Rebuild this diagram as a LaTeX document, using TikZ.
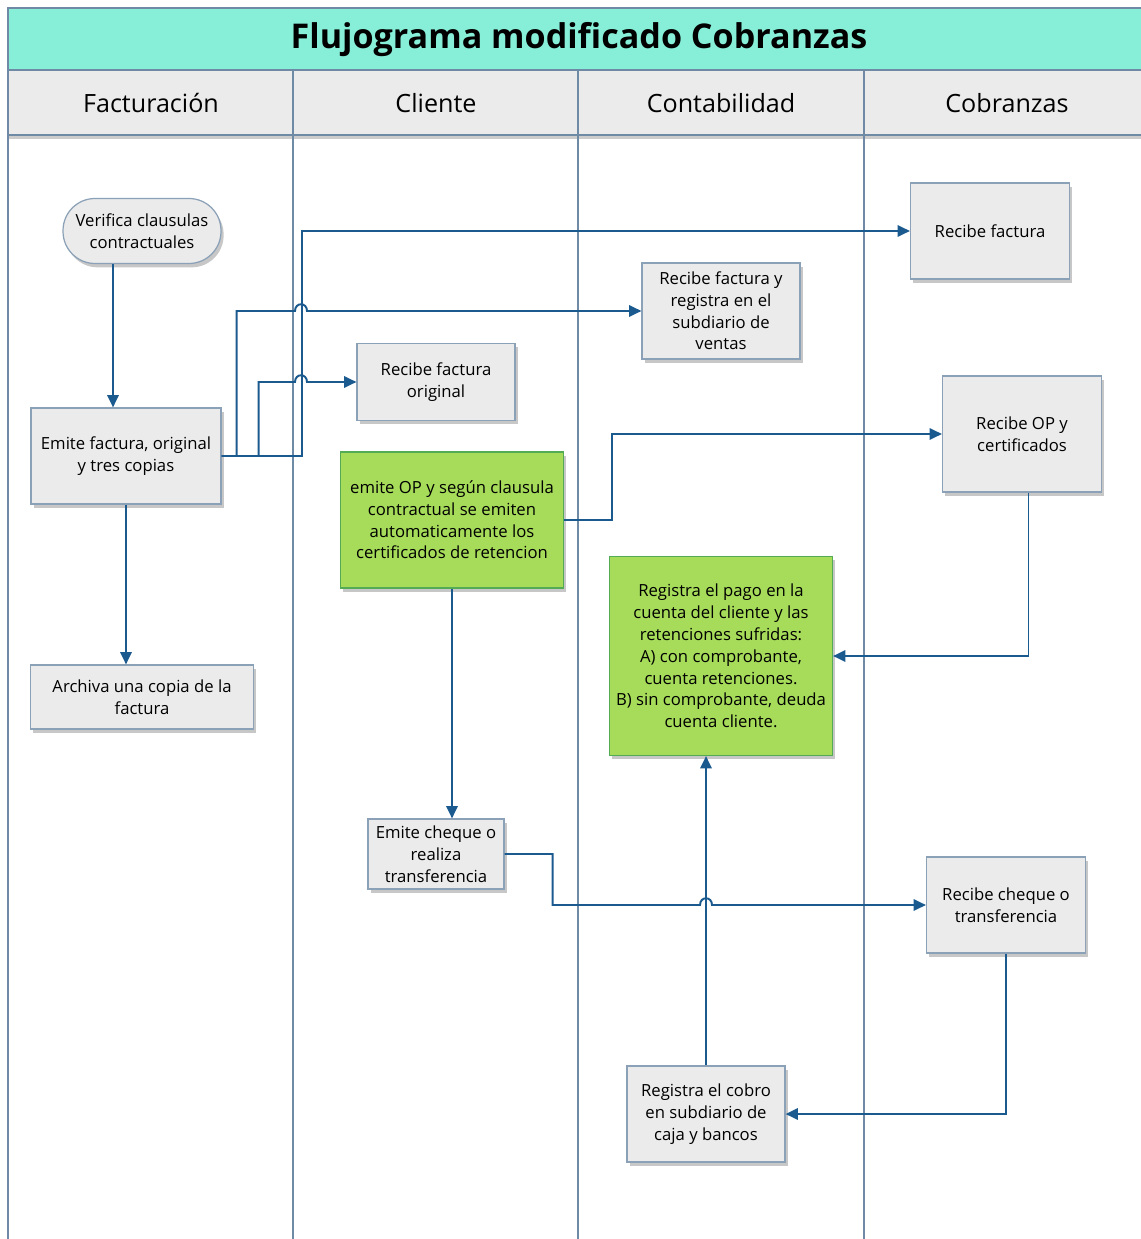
\documentclass[tikz,border=0pt]{standalone}
\usepackage{fontspec}
\setmainfont{Open Sans}
\usepackage{tikz}
\usetikzlibrary{calc}
\usetikzlibrary{shapes}
\usetikzlibrary{arrows.meta,shadows}
\definecolor{titulo}{RGB}{135,238,216}
\definecolor{carril}{RGB}{110,138,165}
\definecolor{flecha}{RGB}{27,90,143}
\definecolor{gris}{RGB}{235,235,235}
\definecolor{verde}{RGB}{166,220,90}

\begin{document}
\begin{tikzpicture}[x=0.02cm,y=-0.02cm,
		caja/.style={draw=carril!80,fill=gris,line width=0.7pt,align=center,inner sep=0pt,
			font=\fontsize{9.5}{12.4}\selectfont,
			drop shadow={shadow xshift=1.5pt,shadow yshift=-2.2pt,fill=black!22,opacity=1}},
		cajav/.style={caja,fill=verde,draw=green!35!gray},
		flujo/.style={draw=flecha,line width=1.1pt,-{Triangle[length=7pt,width=6.5pt]}},
		linea/.style={draw=flecha,line width=1.1pt}]
		\useasboundingbox (0,0) rectangle (1141,1239);
		% titulo y carriles
		\fill[titulo] (8,8) rectangle (1141,70);
		\fill[gris] (8,70) rectangle (1141,135);
		\fill[black!20] (8,135) rectangle (1141,139);
		\draw[carril,line width=0.8pt] (1141,8) -- (8,8) -- (8,1239)
		(8,70) -- (1141,70)
		(8,135) -- (1141,135);
		\foreach \x in {293,578,864}
		\draw[carril,line width=0.8pt] (\x,70) -- (\x,1239);
		\node (tit) at (579,40) {\fontsize{19.4}{22}\selectfont\bfseries Flujograma modificado Cobranzas};
		\node (fac) at (151,103) {\fontsize{14.3}{17}\selectfont Facturación};
		\node (cli) at (436,103) {\fontsize{14.3}{17}\selectfont Cliente};
		\node (con) at (721,103) {\fontsize{14.3}{17}\selectfont Contabilidad};
		\node (cob) at (1007,103) {\fontsize{14.3}{17}\selectfont Cobranzas};
		% Facturacion
		\node[caja,rounded corners=0.64cm,minimum width=3.16cm,minimum height=1.3cm] (vc) at (142,231) {Verifica clausulas\\contractuales};
		\node[caja,minimum width=3.8cm,minimum height=1.92cm] (em) at (126,456) {Emite factura, original\\y tres copias};
		\node[caja,minimum width=4.46cm,minimum height=1.28cm] (ar) at (142,697) {Archiva una copia de la\\factura};
		% Cliente
		\node[caja,minimum width=3.16cm,minimum height=1.54cm] (ro) at (436,382) {Recibe factura\\original};
		\node[cajav,minimum width=4.46cm,minimum height=2.72cm] (op) at (452,520) {emite OP y según clausula\\contractual se emiten\\automaticamente los\\certificados de retencion};
		\node[caja,minimum width=2.72cm,minimum height=1.4cm] (ch) at (436,854) {Emite cheque o\\realiza\\transferencia};
		% Contabilidad
		\node[caja,minimum width=3.16cm,minimum height=1.92cm] (rr) at (721,311) {Recibe factura y\\registra en el\\subdiario de\\ventas};
		\node[cajav,minimum width=4.46cm,minimum height=3.98cm] (rp) at (721,656) {Registra el pago en la\\cuenta del cliente y las\\retenciones sufridas:\\A) con comprobante,\\cuenta retenciones.\\B) sin comprobante, deuda\\cuenta cliente.};
		\node[caja,minimum width=3.16cm,minimum height=1.92cm] (rc) at (706,1114) {Registra el cobro\\en subdiario de\\caja y bancos};
		% Cobranzas
		\node[caja,minimum width=3.18cm,minimum height=1.92cm] (rf) at (990,231) {Recibe factura};
		\node[caja,minimum width=3.18cm,minimum height=2.32cm] (rop) at (1022,434) {Recibe OP y\\certificados};
		\node[caja,minimum width=3.18cm,minimum height=1.92cm] (rcq) at (1006,905) {Recibe cheque o\\transferencia};
		% saltos
		\coordinate (j1) at (301,311);
		\coordinate (j2) at (301,382);
		\coordinate (j3) at (706,905);
		\draw[flujo] ([xshift=-0.58cm]vc.south) -- ([xshift=-0.58cm]vc.south |- em.north);
		\draw[flujo] (em.east) -- ++(80,0) |- (rf.west);
		\draw[flujo] (em.east) -- ++(15,0) |- ($(j1)+(-6,0)$) .. controls +(0,-9) and +(0,-9) .. ($(j1)+(6,0)$) -- (rr.west);
		\draw[flujo] (em.east) -- ++(37,0) |- ($(j2)+(-6,0)$) .. controls +(0,-9) and +(0,-9) .. ($(j2)+(6,0)$) -- (ro.west);
		\draw[flujo] (em.south) -- (em.south |- ar.north);
		\draw[flujo] (op.east) -- ++(48,0) |- (rop.west);
		\draw[flujo] (op.south) -- (op.south |- ch.north);
		\draw[flujo] (ch.east) -- ++(48,0) |- ($(j3)+(-6,0)$) .. controls +(0,-9) and +(0,-9) .. ($(j3)+(6,0)$) -- (rcq.west);
		\draw[flujo] ([xshift=0.13cm]rop.south) |- (rp.east);
		\draw[flujo] (rc.north) -- (rc.north |- rp.south);
		\draw[flujo] (rcq.south) |- (rc.east);
	\end{tikzpicture}
\end{document}
